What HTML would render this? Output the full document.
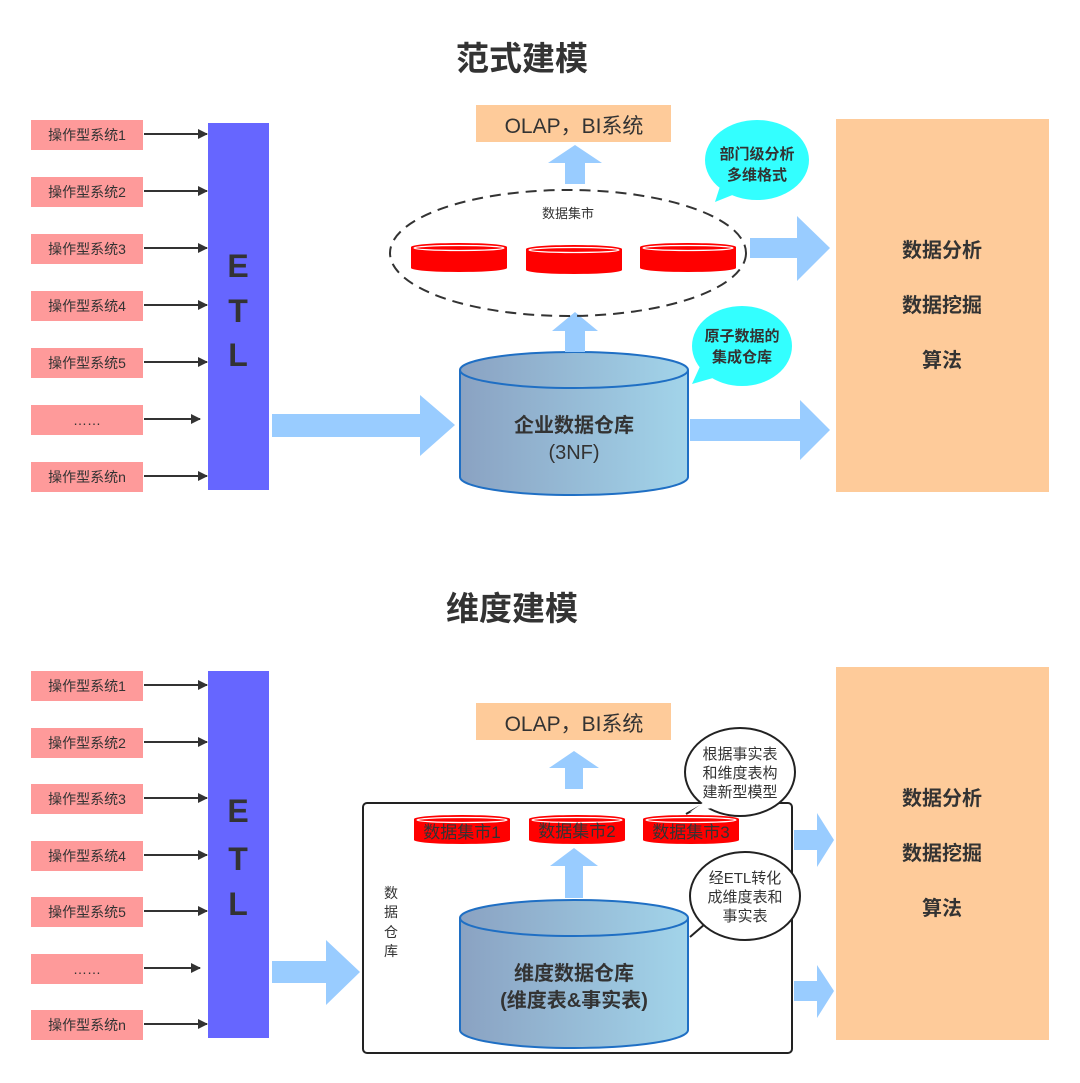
<!DOCTYPE html>
<html><head><meta charset="utf-8"><style>
html,body{margin:0;padding:0;background:#fff;}
svg{display:block;}
text{font-family:"Liberation Sans","Noto Sans CJK SC",sans-serif;fill:#333;}
</style></head><body>
<svg width="1080" height="1083" viewBox="0 0 1080 1083" xmlns="http://www.w3.org/2000/svg">
<defs>
<linearGradient id="cyl" x1="0" x2="1" y1="0" y2="0"><stop offset="0" stop-color="#8aa2c2"/><stop offset="1" stop-color="#a2d4ea"/></linearGradient>
<marker id="ah" markerWidth="10" markerHeight="10" refX="9" refY="5" orient="auto" markerUnits="userSpaceOnUse"><path d="M0,0 L10,5 L0,10 Z" fill="#333"/></marker>
<g id="disk">
<path d="M0,4 L0,25 A48,4 0 0 0 96,25 L96,4 Z" fill="#ff0000"/>
<ellipse cx="48" cy="4" rx="48" ry="4" fill="#ff0000"/>
<ellipse cx="48" cy="5" rx="45" ry="2.5" fill="none" stroke="#fff" stroke-width="1.2"/>
</g>
</defs>

<!-- TOP -->
<text x="522" y="70" font-size="33" font-weight="bold" text-anchor="middle" fill="#222">范式建模</text>
<g font-size="14">
<rect x="31" y="120" width="112" height="30" fill="#fe9a9a"/><text x="87" y="140" text-anchor="middle">操作型系统1</text>
<rect x="31" y="177" width="112" height="30" fill="#fe9a9a"/><text x="87" y="197" text-anchor="middle">操作型系统2</text>
<rect x="31" y="234" width="112" height="30" fill="#fe9a9a"/><text x="87" y="254" text-anchor="middle">操作型系统3</text>
<rect x="31" y="291" width="112" height="30" fill="#fe9a9a"/><text x="87" y="311" text-anchor="middle">操作型系统4</text>
<rect x="31" y="348" width="112" height="30" fill="#fe9a9a"/><text x="87" y="368" text-anchor="middle">操作型系统5</text>
<rect x="31" y="405" width="112" height="30" fill="#fe9a9a"/><text x="87" y="425" text-anchor="middle">……</text>
<rect x="31" y="462" width="112" height="30" fill="#fe9a9a"/><text x="87" y="482" text-anchor="middle">操作型系统n</text>
</g>
<g stroke="#333" stroke-width="2" marker-end="url(#ah)">
<line x1="144" y1="134" x2="207" y2="134"/><line x1="144" y1="191" x2="207" y2="191"/><line x1="144" y1="248" x2="207" y2="248"/><line x1="144" y1="305" x2="207" y2="305"/><line x1="144" y1="362" x2="207" y2="362"/><line x1="144" y1="419" x2="200" y2="419"/><line x1="144" y1="476" x2="207" y2="476"/>
</g>
<rect x="208" y="123" width="61" height="367" fill="#6666ff"/>
<g font-size="32" font-weight="bold" text-anchor="middle" fill="#222"><text x="238" y="277" fill="#222">E</text><text x="238" y="322" fill="#222">T</text><text x="238" y="366" fill="#222">L</text></g>
<path d="M272,414 L420,414 L420,395 L455,425 L420,456 L420,437 L272,437 Z" fill="#99ccff"/>
<path d="M460,370 L460,477 A114,18 0 0 0 688,477 L688,370" fill="url(#cyl)" stroke="#1f6fc4" stroke-width="2"/>
<ellipse cx="574" cy="370" rx="114" ry="18" fill="url(#cyl)" stroke="#1f6fc4" stroke-width="2"/>
<text x="574" y="432" font-size="20" font-weight="bold" text-anchor="middle">企业数据仓库</text>
<text x="574" y="459" font-size="20" text-anchor="middle">(3NF)</text>
<path d="M565,352 L565,331 L552,331 L575,312 L598,331 L585,331 L585,352 Z" fill="#99ccff"/>
<ellipse cx="568" cy="253" rx="178" ry="63" fill="none" stroke="#333" stroke-width="2" stroke-dasharray="11,7"/>
<text x="568" y="218" font-size="13" text-anchor="middle">数据集市</text>
<use href="#disk" x="411" y="243"/><use href="#disk" x="526" y="245"/><use href="#disk" x="640" y="243"/>
<path d="M565,184 L565,163 L548,163 L575,145 L602,163 L585,163 L585,184 Z" fill="#99ccff"/>
<rect x="476" y="105" width="195" height="37" fill="#fecb9a"/>
<text x="574" y="133" font-size="21" text-anchor="middle">OLAP，BI系统</text>
<path d="M715,202 L722,180 L740,192 Z" fill="#33ffff"/>
<ellipse cx="757" cy="160" rx="52" ry="40" fill="#33ffff"/>
<text x="757" y="159" font-size="15" font-weight="bold" text-anchor="middle">部门级分析</text>
<text x="757" y="180" font-size="15" font-weight="bold" text-anchor="middle">多维格式</text>
<path d="M692,384 L702,362 L720,376 Z" fill="#33ffff"/>
<ellipse cx="742" cy="346" rx="50" ry="40" fill="#33ffff"/>
<text x="742" y="341" font-size="15" font-weight="bold" text-anchor="middle">原子数据的</text>
<text x="742" y="362" font-size="15" font-weight="bold" text-anchor="middle">集成仓库</text>
<path d="M750,238 L797,238 L797,216 L830,248 L797,281 L797,258 L750,258 Z" fill="#99ccff"/>
<path d="M690,419 L800,419 L800,400 L830,430 L800,460 L800,441 L690,441 Z" fill="#99ccff"/>
<rect x="836" y="119" width="213" height="373" fill="#fecb9a"/>
<g font-size="20" font-weight="bold" text-anchor="middle"><text x="942" y="257">数据分析</text><text x="942" y="312">数据挖掘</text><text x="942" y="367">算法</text></g>

<!-- BOTTOM -->
<text x="512" y="620" font-size="33" font-weight="bold" text-anchor="middle" fill="#222">维度建模</text>
<g font-size="14">
<rect x="31" y="671" width="112" height="30" fill="#fe9a9a"/><text x="87" y="691" text-anchor="middle">操作型系统1</text>
<rect x="31" y="728" width="112" height="30" fill="#fe9a9a"/><text x="87" y="748" text-anchor="middle">操作型系统2</text>
<rect x="31" y="784" width="112" height="30" fill="#fe9a9a"/><text x="87" y="804" text-anchor="middle">操作型系统3</text>
<rect x="31" y="841" width="112" height="30" fill="#fe9a9a"/><text x="87" y="861" text-anchor="middle">操作型系统4</text>
<rect x="31" y="897" width="112" height="30" fill="#fe9a9a"/><text x="87" y="917" text-anchor="middle">操作型系统5</text>
<rect x="31" y="954" width="112" height="30" fill="#fe9a9a"/><text x="87" y="974" text-anchor="middle">……</text>
<rect x="31" y="1010" width="112" height="30" fill="#fe9a9a"/><text x="87" y="1030" text-anchor="middle">操作型系统n</text>
</g>
<g stroke="#333" stroke-width="2" marker-end="url(#ah)">
<line x1="144" y1="685" x2="207" y2="685"/><line x1="144" y1="742" x2="207" y2="742"/><line x1="144" y1="798" x2="207" y2="798"/><line x1="144" y1="855" x2="207" y2="855"/><line x1="144" y1="911" x2="207" y2="911"/><line x1="144" y1="968" x2="200" y2="968"/><line x1="144" y1="1024" x2="207" y2="1024"/>
</g>
<rect x="208" y="671" width="61" height="367" fill="#6666ff"/>
<g font-size="32" font-weight="bold" text-anchor="middle"><text x="238" y="822" fill="#222">E</text><text x="238" y="870" fill="#222">T</text><text x="238" y="915" fill="#222">L</text></g>
<path d="M272,961 L326,961 L326,940 L360,972 L326,1005 L326,983 L272,983 Z" fill="#99ccff"/>
<rect x="363" y="803" width="429" height="250" rx="4" fill="#fff" stroke="#222" stroke-width="2"/>
<g font-size="14" text-anchor="middle"><text x="391" y="898">数</text><text x="391" y="917">据</text><text x="391" y="937">仓</text><text x="391" y="956">库</text></g>
<path d="M460,918 L460,1030 A114,18 0 0 0 688,1030 L688,918" fill="url(#cyl)" stroke="#1f6fc4" stroke-width="2"/>
<ellipse cx="574" cy="918" rx="114" ry="18" fill="url(#cyl)" stroke="#1f6fc4" stroke-width="2"/>
<text x="574" y="980" font-size="20" font-weight="bold" text-anchor="middle">维度数据仓库</text>
<text x="574" y="1007" font-size="20" font-weight="bold" text-anchor="middle">(维度表&amp;事实表)</text>
<path d="M565,898 L565,866 L550,866 L574,848 L598,866 L583,866 L583,898 Z" fill="#99ccff"/>
<use href="#disk" x="414" y="815"/><use href="#disk" x="529" y="815"/><use href="#disk" x="643" y="815"/>
<g font-size="17" text-anchor="middle"><text x="462" y="838" fill="#5a0000">数据集市1</text><text x="577" y="837" fill="#5a0000">数据集市2</text><text x="691" y="838" fill="#5a0000">数据集市3</text></g>
<path d="M565,789 L565,768 L549,768 L574,751 L599,768 L583,768 L583,789 Z" fill="#99ccff"/>
<rect x="476" y="703" width="195" height="37" fill="#fecb9a"/>
<text x="574" y="731" font-size="21" text-anchor="middle">OLAP，BI系统</text>
<path d="M686,814 L702,805" stroke="#222" stroke-width="2"/>
<ellipse cx="740" cy="772" rx="55" ry="44" fill="#fff" stroke="#222" stroke-width="2"/>
<path d="M690,812 L704,802 L712,808 Z" fill="#fff"/>
<g font-size="15" text-anchor="middle"><text x="740" y="759">根据事实表</text><text x="740" y="778">和维度表构</text><text x="740" y="797">建新型模型</text></g>
<path d="M690,937 L705,924" stroke="#222" stroke-width="2"/>
<ellipse cx="745" cy="896" rx="55" ry="44" fill="#fff" stroke="#222" stroke-width="2"/>
<g font-size="15" text-anchor="middle"><text x="745" y="883">经ETL转化</text><text x="745" y="902">成维度表和</text><text x="745" y="921">事实表</text></g>
<path d="M794,830 L817,830 L817,813 L834,840 L817,867 L817,850 L794,850 Z" fill="#99ccff"/>
<path d="M794,981 L817,981 L817,965 L834,991 L817,1018 L817,1001 L794,1001 Z" fill="#99ccff"/>
<rect x="836" y="667" width="213" height="373" fill="#fecb9a"/>
<g font-size="20" font-weight="bold" text-anchor="middle"><text x="942" y="805">数据分析</text><text x="942" y="860">数据挖掘</text><text x="942" y="915">算法</text></g>
</svg>
</body></html>
